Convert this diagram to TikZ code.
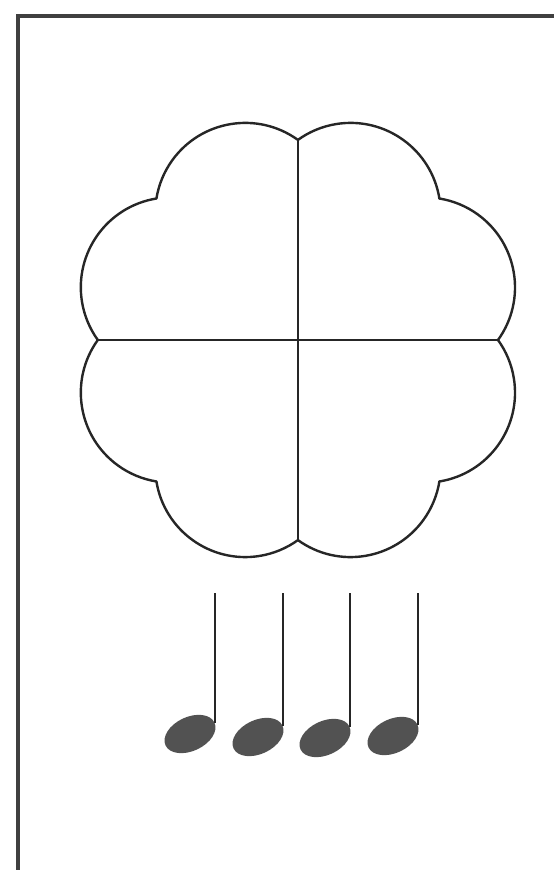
\documentclass[tikz,border=0pt]{standalone}
\usepackage{tikz}
\usetikzlibrary{shapes.geometric}

\begin{document}
\begin{tikzpicture}[
  x=1pt, y=1pt,
  % Flower outline and the two dividing lines
  outline/.style={line width=2.4pt, draw=black!85, line join=round},
  divider/.style={line width=2.1pt, draw=black!85},
  % Page frame (top and left edges only)
  frameline/.style={line width=3.2pt, draw=black!75},
  % Filled note heads, tilted, and their stems
  notehead/.style={ellipse, fill=black!68, draw=none,
                   minimum width=54pt, minimum height=34pt,
                   inner sep=0pt, rotate=25},
  notestem/.style={line width=2pt, draw=black!85}
]
\useasboundingbox (0,0) rectangle (554,870);

%% ── Page frame ──────────────────────────────────────────────
\coordinate (corner) at (18,854);
\draw[frameline] (18,0) -- (corner) -- (554,854);

%% ── Flower: eight round lobes round one centre ──────────────
\coordinate (mid) at (298,530);
\draw[outline] ([shift={(0:200)}]mid)
  \foreach \a in {22.5,67.5,...,337.5}{
    arc[start angle=\a-58.3, end angle=\a+58.3, radius=90]
  } -- cycle;

% dividing lines meet the outline where two lobes touch
\coordinate (east)  at ([shift={(0:200)}]mid);
\coordinate (north) at ([shift={(90:200)}]mid);
\coordinate (west)  at ([shift={(180:200)}]mid);
\coordinate (south) at ([shift={(270:200)}]mid);
\draw[divider] (west)  -- (east);
\draw[divider] (north) -- (south);

%% ── Four quarter notes ──────────────────────────────────────
\coordinate (stemtop) at (0,277);
\foreach \x/\y [count=\i] in {190/136, 258/133, 325/132, 393/134}{
  \node[notehead] (head\i) at (\x,\y) {};
  \draw[notestem] (head\i.east) -- (head\i.east |- stemtop);
}

\end{tikzpicture}
\end{document}
